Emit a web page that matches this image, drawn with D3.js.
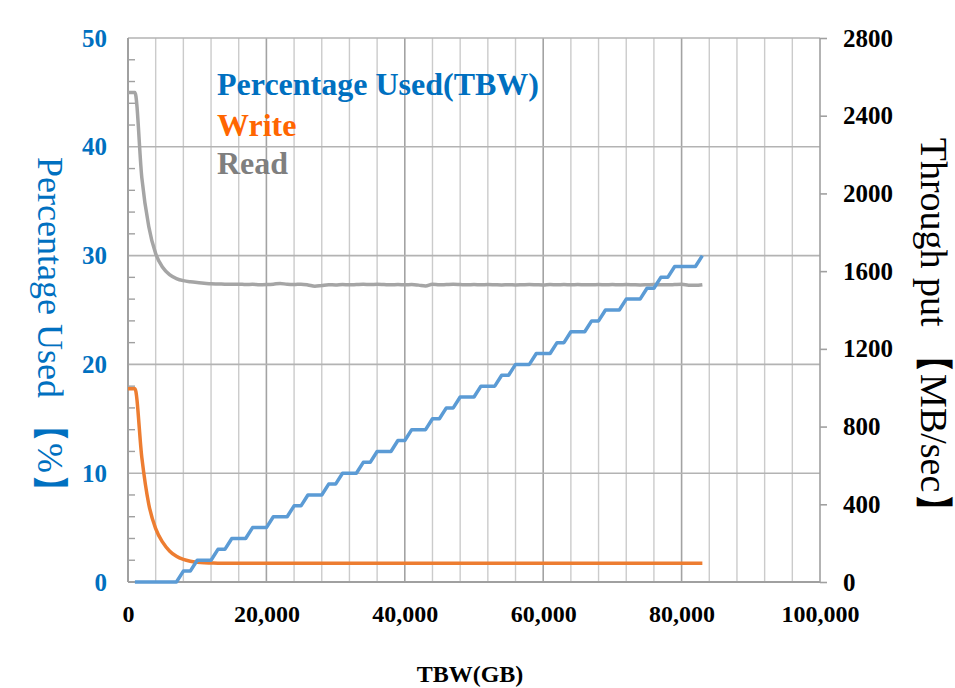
<!DOCTYPE html>
<html>
<head>
<meta charset="utf-8">
<script src="https://cdn.jsdelivr.net/npm/d3@7"></script>
<style>
  html, body { margin: 0; padding: 0; background: #ffffff; }
  svg { display: block; }
</style>
</head>
<body>
<svg id="chart" width="955" height="688"></svg>
<script>
// ---- data ----
const tbwGB = [0,1000,2000,3000,4000,5000,6000,7000,8000,9000,10000,11000,12000,13000,14000,15000,16000,17000,18000,19000,
  20000,21000,22000,23000,24000,25000,26000,27000,28000,29000,30000,31000,32000,33000,34000,35000,36000,37000,38000,39000,
  40000,41000,42000,43000,44000,45000,46000,47000,48000,49000,50000,51000,52000,53000,54000,55000,56000,57000,58000,59000,
  60000,61000,62000,63000,64000,65000,66000,67000,68000,69000,70000,71000,72000,73000,74000,75000,76000,77000,78000,79000,
  80000,81000,82000,83000];
const percentageUsed = [null,0,0,0,0,0,0,0,1,1,2,2,2,3,3,4,4,4,5,5,
  5,6,6,6,7,7,8,8,8,9,9,10,10,10,11,11,12,12,12,13,
  13,14,14,14,15,15,16,16,17,17,17,18,18,18,19,19,20,20,20,21,
  21,21,22,22,23,23,23,24,24,25,25,25,26,26,26,27,27,28,28,29,
  29,29,29,30];
const writeMBs = [995,995,640,400,275,205,160,132,116,107,102,99,98,97,97,97,97,97,97,97,
  97,97,97,97,97,97,96,97,97,97,97,97,97,97,97,97,97,97,97,97,
  97,97,97,97,97,97,97,97,97,97,97,97,97,97,97,96,97,97,97,97,
  97,97,97,97,97,97,97,97,97,97,97,97,97,97,97,97,97,97,97,97,
  97,97,97,97];
const readMBs = [2520,2520,2080,1830,1690,1620,1582,1562,1551,1545,1541,1538,1535,1534,1533,1532,1533,1531,1532,1530,
  1531,1533,1537,1532,1531,1533,1529,1522,1526,1530,1529,1531,1530,1531,1532,1531,1532,1531,1530,1531,
  1530,1531,1528,1524,1533,1530,1531,1532,1531,1530,1531,1530,1531,1530,1529,1530,1529,1530,1531,1530,
  1529,1531,1530,1531,1530,1531,1530,1530,1531,1530,1531,1530,1531,1530,1529,1530,1531,1530,1530,1531,
  1532,1528,1527,1530];
const xTickLabels = [0,20000,40000,60000,80000,100000];
const leftTickLabels = [0,10,20,30,40,50];
const rightTickLabels = [0,400,800,1200,1600,2000,2400,2800];
const legendNames = ["Percentage Used(TBW)","Write","Read"];

// ---- layout ----
const X0 = 128, X1 = 820, Y0 = 582, Y1 = 38;
const svg = d3.select("#chart");
const x = d3.scaleLinear().domain([0,100000]).range([X0,X1]);
const yL = d3.scaleLinear().domain([0,50]).range([Y0,Y1]);
const yR = d3.scaleLinear().domain([0,2800]).range([Y0,Y1]);

const serif = "'Liberation Serif','Times New Roman',serif";

// vertical grid every 4000 GB
const g = svg.append("g");
d3.range(4000, 100000, 4000).forEach(v => {
  g.append("line").attr("x1", x(v)).attr("x2", x(v)).attr("y1", Y1).attr("y2", Y0)
    .attr("stroke", v % 20000 === 0 ? "#a3a3a3" : "#cbcbcb").attr("stroke-width", v % 20000 === 0 ? 1.6 : 1.4);
});
// horizontal grid at major left ticks
leftTickLabels.filter(v => v > 0).forEach(v => {
  g.append("line").attr("x1", X0).attr("x2", X1).attr("y1", yL(v)).attr("y2", yL(v))
    .attr("stroke", "#b3b3b3").attr("stroke-width", 1.6);
});
// left minor ticks (inward)
d3.range(2, 50, 2).filter(v => v % 10 !== 0).forEach(v => {
  g.append("line").attr("x1", X0).attr("x2", X0 + 7).attr("y1", yL(v)).attr("y2", yL(v))
    .attr("stroke", "#a0a0a0").attr("stroke-width", 1.4);
});
// axis lines
g.append("line").attr("x1", X0).attr("x2", X0).attr("y1", Y1).attr("y2", Y0).attr("stroke", "#a0a0a0").attr("stroke-width", 2);
g.append("line").attr("x1", X0).attr("x2", X1).attr("y1", Y0).attr("y2", Y0).attr("stroke", "#a0a0a0").attr("stroke-width", 2);
g.append("line").attr("x1", X1).attr("x2", X1).attr("y1", Y1).attr("y2", Y0).attr("stroke", "#a0a0a0").attr("stroke-width", 1.6);

// ---- axes ----
const axL = svg.append("g").attr("transform", `translate(${X0},0)`)
  .call(d3.axisLeft(yL).tickValues(leftTickLabels).tickSize(0).tickPadding(21));
axL.select(".domain").remove();
axL.selectAll("text").attr("font-family", serif).attr("font-weight", "bold")
  .attr("font-size", 25).attr("fill", "#0070C0");

const axR = svg.append("g").attr("transform", `translate(${X1},0)`)
  .call(d3.axisRight(yR).tickValues(rightTickLabels).tickSize(7).tickPadding(16).tickFormat(d3.format("d")));
axR.select(".domain").remove();
axR.selectAll("line").attr("stroke", "#a0a0a0").attr("stroke-width", 1.6);
axR.selectAll("text").attr("font-family", serif).attr("font-weight", "bold")
  .attr("font-size", 25).attr("fill", "#000");

const axB = svg.append("g").attr("transform", `translate(0,${Y0})`)
  .call(d3.axisBottom(x).tickValues(xTickLabels).tickSize(0).tickPadding(23).tickFormat(d3.format(",")));
axB.select(".domain").remove();
axB.selectAll("text").attr("font-family", serif).attr("font-weight", "bold")
  .attr("font-size", 24).attr("fill", "#000");

// ---- lines ----
const pts = (arr) => tbwGB.map((t, i) => [t, arr[i]]);
const lineR = d3.line().defined(d => d[1] != null).x(d => x(d[0])).y(d => yR(d[1])).curve(d3.curveMonotoneX);
const lineL = d3.line().defined(d => d[1] != null).x(d => x(d[0])).y(d => yL(d[1]));

svg.append("path").attr("d", lineR(pts(readMBs))).attr("fill", "none")
  .attr("stroke", "#A5A5A5").attr("stroke-width", 3.5).attr("stroke-linejoin", "round");
svg.append("path").attr("d", lineR(pts(writeMBs))).attr("fill", "none")
  .attr("stroke", "#ED7D31").attr("stroke-width", 3.5).attr("stroke-linejoin", "round");
svg.append("path").attr("d", lineL(pts(percentageUsed))).attr("fill", "none")
  .attr("stroke", "#5B9BD5").attr("stroke-width", 3.5).attr("stroke-linejoin", "round");

// ---- legend ----
const legendColors = ["#0070C0", "#FF6600", "#7F7F7F"];
const legendY = [95, 136, 174];
legendNames.forEach((n, i) => {
  svg.append("text").attr("x", 217).attr("y", legendY[i]).text(n)
    .attr("font-family", serif).attr("font-weight", "bold").attr("font-size", 32)
    .attr("fill", legendColors[i]);
});

// ---- axis titles ----
svg.append("text").attr("transform", "translate(38,333) rotate(90)")
  .attr("text-anchor", "middle").attr("font-family", serif).attr("font-size", 36)
  .attr("fill", "#0070C0").text("Percentage Used 【%】");
svg.append("text").attr("transform", "translate(921,334) rotate(90)")
  .attr("text-anchor", "middle").attr("font-family", serif).attr("font-size", 38)
  .attr("fill", "#000").text("Through put 【MB/sec】");
svg.append("text").attr("x", 470).attr("y", 682).attr("text-anchor", "middle")
  .attr("font-family", serif).attr("font-weight", "bold").attr("font-size", 24)
  .attr("fill", "#000").text("TBW(GB)");
</script>
</body>
</html>
